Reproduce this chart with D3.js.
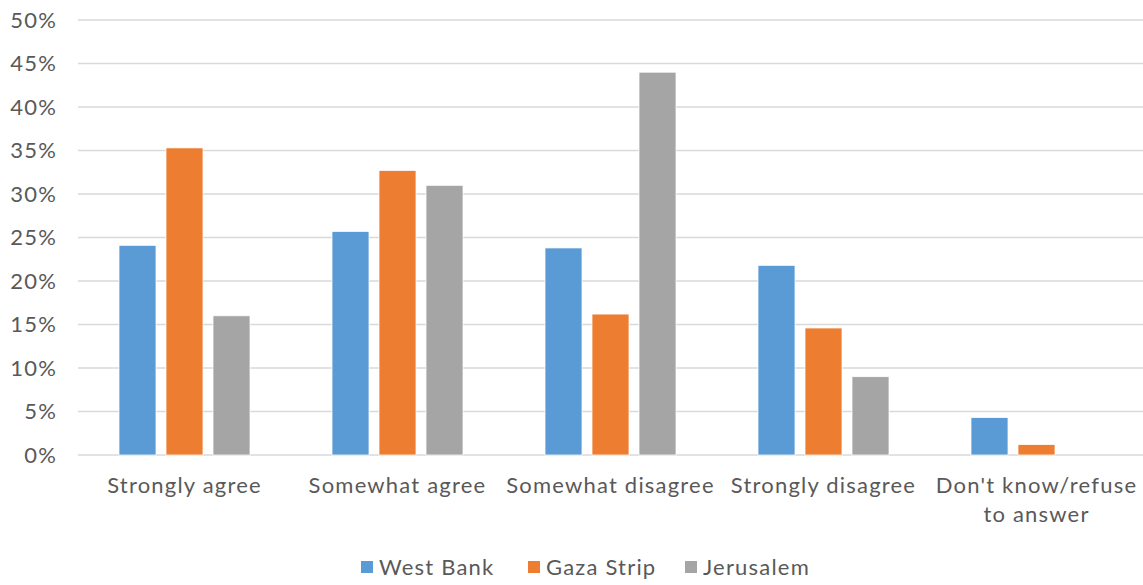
<!DOCTYPE html>
<html><head><meta charset="utf-8">
<script src="https://cdn.jsdelivr.net/npm/d3@7"></script>
<style>
body{margin:0;background:#fff;}
text{font-family:"Lato","Open Sans",sans-serif;fill:#595959;font-weight:400;letter-spacing:1.2px;}
</style></head>
<body><svg id="c" width="1143" height="585"></svg>
<script>
const categories = ["Strongly agree","Somewhat agree","Somewhat disagree","Strongly disagree","Don't know/refuse to answer"];
const categoryLines = [["Strongly agree"],["Somewhat agree"],["Somewhat disagree"],["Strongly disagree"],["Don't know/refuse","to answer"]];
const seriesNames = ["West Bank","Gaza Strip","Jerusalem"];
const westBank = [24.1, 25.7, 23.8, 21.8, 4.3];
const gazaStrip = [35.3, 32.7, 16.2, 14.6, 1.2];
const jerusalem = [16.0, 31.0, 44.0, 9.0, 0];
const yTicks = [0,5,10,15,20,25,30,35,40,45,50];
const colors = ["#5B9BD5","#ED7D31","#A5A5A5"];

(function(){
const series = [westBank, gazaStrip, jerusalem];
const svg = d3.select("#c");
const pL = 78, pR = 1143, pT = 20, pB = 455;
const y = d3.scaleLinear().domain([0,50]).range([pB, pT]);
const x0 = d3.scaleBand().domain(categories).range([pL, pR]).paddingInner(0).paddingOuter(0);
const bw = 37, step = 47;

svg.append("g").selectAll("line").data(yTicks).join("line")
  .attr("x1", pL).attr("x2", pR)
  .attr("y1", d=>y(d)).attr("y2", d=>y(d))
  .attr("stroke", "#D9D9D9").attr("stroke-width", 1.5);

svg.append("g").selectAll("text").data(yTicks).join("text")
  .attr("x", 57).attr("y", d=>y(d)).attr("dy","0.36em")
  .attr("text-anchor","end").attr("font-size", 22)
  .text(d=>d+"%");

series.forEach((vals, si) => {
  svg.append("g").selectAll("rect").data(vals).join("rect")
    .attr("x", (d,i)=> x0(categories[i]) + x0.bandwidth()/2 + (si-1)*step - bw/2)
    .attr("width", bw)
    .attr("y", d=>y(d))
    .attr("height", d=>y(0)-y(d))
    .attr("fill", colors[si])
    .attr("stroke", d=> d>0 ? "#fff" : "none").attr("stroke-width", 0.75);
});

const xl = svg.append("g").selectAll("text").data(categories).join("text")
  .attr("text-anchor","middle").attr("font-size", 22)
  .attr("x", d=> x0(d)+x0.bandwidth()/2)
  .attr("y", 493);
xl.each(function(d,i){
  const t = d3.select(this);
  categoryLines[i].forEach((ln,j)=>{
    t.append("tspan").attr("x", x0(d)+x0.bandwidth()/2).attr("dy", j===0?0:29).text(ln);
  });
});

const legX = [361, 528, 685];
const lg = svg.append("g").selectAll("g").data(seriesNames).join("g")
  .attr("transform",(d,i)=>`translate(${legX[i]},567)`);
lg.append("rect").attr("x",0).attr("y",-6).attr("width",12).attr("height",12).attr("fill",(d,i)=>colors[i]);
lg.append("text").attr("x",18).attr("dy","0.36em").attr("font-size",22).text(d=>d);
})();
</script></body></html>
